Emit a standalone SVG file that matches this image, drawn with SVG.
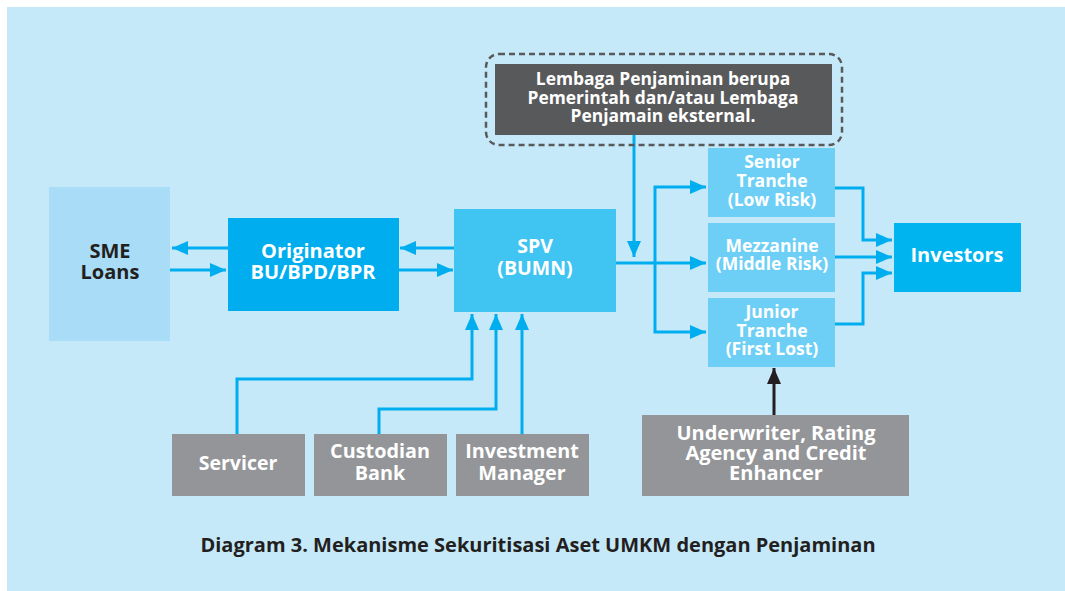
<svg xmlns="http://www.w3.org/2000/svg" width="1065" height="591" viewBox="0 0 1065 591">
  <defs>
    <style>
      .t { font-family: "Open Sans", "Liberation Sans", sans-serif; font-weight: bold; text-anchor: middle; }
      .w { fill: #ffffff; }
      .d { fill: #231f20; }
      .conn { fill: none; stroke: #00aeef; stroke-width: 3; }
      .connk { fill: none; stroke: #231f20; stroke-width: 3; }
    </style>
    <marker id="ah" viewBox="0 0 16 14" refX="16" refY="7" markerWidth="16" markerHeight="14" markerUnits="userSpaceOnUse" orient="auto">
      <path d="M0,0 L16,7 L0,14 Z" fill="#00aeef"/>
    </marker>
    <marker id="ahk" viewBox="0 0 16 14" refX="16" refY="7" markerWidth="16" markerHeight="14" markerUnits="userSpaceOnUse" orient="auto">
      <path d="M0,0 L16,7 L0,14 Z" fill="#231f20"/>
    </marker>
  </defs>

  <!-- panel -->
  <rect x="0" y="0" width="1065" height="591" fill="#ffffff"/>
  <rect x="7" y="7" width="1058" height="584" fill="#c6e9f9"/>

  <!-- connectors -->
  <g id="connectors">
    <line class="conn" x1="228" y1="248" x2="172" y2="248" marker-end="url(#ah)"/>
    <line class="conn" x1="170" y1="270" x2="226" y2="270" marker-end="url(#ah)"/>
    <line class="conn" x1="454" y1="248" x2="400" y2="248" marker-end="url(#ah)"/>
    <line class="conn" x1="399" y1="270" x2="453" y2="270" marker-end="url(#ah)"/>
    <line class="conn" x1="634" y1="135" x2="634" y2="257" marker-end="url(#ah)"/>
    <line class="conn" x1="616" y1="263" x2="706" y2="263" marker-end="url(#ah)"/>
    <polyline class="conn" points="655,263 655,187 706,187" marker-end="url(#ah)"/>
    <polyline class="conn" points="655,263 655,332 706,332" marker-end="url(#ah)"/>
    <polyline class="conn" points="835,188 863,188 863,240 892,240" marker-end="url(#ah)"/>
    <line class="conn" x1="835" y1="257" x2="892" y2="257" marker-end="url(#ah)"/>
    <polyline class="conn" points="835,324 863,324 863,273 892,273" marker-end="url(#ah)"/>
    <polyline class="conn" points="237,434 237,379 472,379 472,314" marker-end="url(#ah)"/>
    <polyline class="conn" points="379,434 379,409 496,409 496,314" marker-end="url(#ah)"/>
    <line class="conn" x1="522" y1="434" x2="522" y2="314" marker-end="url(#ah)"/>
    <line class="connk" x1="774" y1="415" x2="774" y2="368" marker-end="url(#ahk)"/>
  </g>

  <g id="guarantor">
    <rect x="486" y="54" width="356" height="91" rx="13" fill="none" stroke="#58595b" stroke-width="2.5" stroke-dasharray="6 4"/>
    <rect x="495" y="64" width="337" height="71" fill="#58595b"/>
    <text class="t w" font-size="17.4" x="663" y="85">Lembaga Penjaminan berupa</text>
    <text class="t w" font-size="17.4" x="663" y="104">Pemerintah dan/atau Lembaga</text>
    <text class="t w" font-size="17.4" x="663" y="122">Penjamain eksternal.</text>
  </g>

  <g id="sme-loans">
    <rect x="49" y="187" width="121" height="154" fill="#a8dcf7"/>
    <text class="t d" font-size="20" x="110" y="258">SME</text>
    <text class="t d" font-size="20" x="110" y="279">Loans</text>
  </g>

  <g id="originator">
    <rect x="228" y="218" width="171" height="93" fill="#00aeef"/>
    <text class="t w" font-size="20" x="313" y="258">Originator</text>
    <text class="t w" font-size="20" x="313" y="279">BU/BPD/BPR</text>
  </g>

  <g id="spv">
    <rect x="454" y="209" width="162" height="103" fill="#40c4f2"/>
    <text class="t w" font-size="19.5" x="535" y="253">SPV</text>
    <text class="t w" font-size="19.5" x="535" y="275">(BUMN)</text>
  </g>

  <g id="senior-tranche">
    <rect x="708" y="148" width="127" height="69" fill="#6dcff6"/>
    <text class="t w" font-size="17.5" x="772" y="168">Senior</text>
    <text class="t w" font-size="17.5" x="772" y="187">Tranche</text>
    <text class="t w" font-size="17.5" x="772" y="206">(Low Risk)</text>
  </g>

  <g id="mezzanine">
    <rect x="708" y="223" width="127" height="69" fill="#6dcff6"/>
    <text class="t w" font-size="17.5" x="772" y="252">Mezzanine</text>
    <text class="t w" font-size="17.5" x="772" y="270">(Middle Risk)</text>
  </g>

  <g id="junior-tranche">
    <rect x="708" y="298" width="127" height="69" fill="#6dcff6"/>
    <text class="t w" font-size="17.5" x="772" y="318">Junior</text>
    <text class="t w" font-size="17.5" x="772" y="337">Tranche</text>
    <text class="t w" font-size="17.5" x="772" y="355">(First Lost)</text>
  </g>

  <g id="investors">
    <rect x="894" y="223" width="127" height="69" fill="#00b5ef"/>
    <text class="t w" font-size="20" x="957" y="262">Investors</text>
  </g>

  <g id="servicer">
    <rect x="172" y="434" width="133" height="62" fill="#939598"/>
    <text class="t w" font-size="19.5" x="238" y="470">Servicer</text>
  </g>

  <g id="custodian-bank">
    <rect x="314" y="434" width="133" height="62" fill="#939598"/>
    <text class="t w" font-size="19.8" x="380" y="458">Custodian</text>
    <text class="t w" font-size="19.8" x="380" y="480">Bank</text>
  </g>

  <g id="investment-manager">
    <rect x="456" y="434" width="133" height="62" fill="#939598"/>
    <text class="t w" font-size="19.8" x="522" y="458">Investment</text>
    <text class="t w" font-size="19.8" x="522" y="480">Manager</text>
  </g>

  <g id="underwriter">
    <rect x="642" y="415" width="267" height="81" fill="#939598"/>
    <text class="t w" font-size="20" x="776" y="440">Underwriter, Rating</text>
    <text class="t w" font-size="20" x="776" y="460">Agency and Credit</text>
    <text class="t w" font-size="20" x="776" y="480">Enhancer</text>
  </g>

  <text class="t d" font-size="20" x="538" y="552">Diagram 3. Mekanisme Sekuritisasi Aset UMKM dengan Penjaminan</text>
</svg>
